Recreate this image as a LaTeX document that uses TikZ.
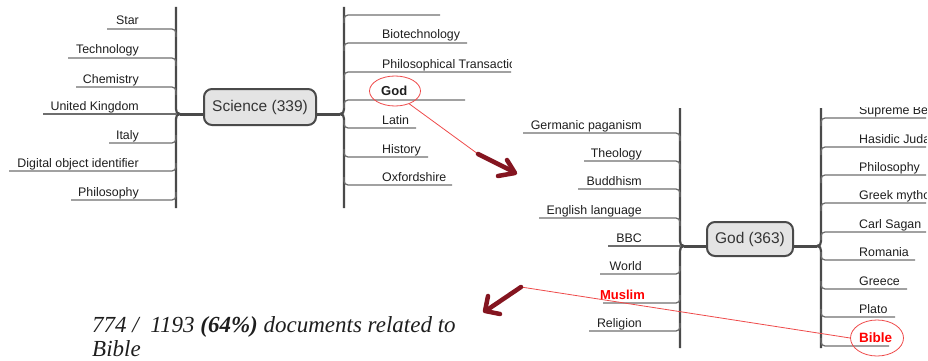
\documentclass[tikz,border=0pt]{standalone}
\usepackage{fontspec}
\setmainfont{Liberation Sans}
\newfontfamily\capfont{Liberation Serif}
\usetikzlibrary{shapes.geometric}
\definecolor{vline}{HTML}{4A4A4A}
\definecolor{bline}{HTML}{6E6E6E}
\definecolor{boxfill}{HTML}{E4E4E4}
\definecolor{darkred}{HTML}{841520}
\definecolor{thinred}{HTML}{EE4A4A}
\definecolor{txt}{HTML}{1E1E1E}
\tikzset{
  vl/.style={draw=vline, line width=2.2pt},
  br/.style={draw=bline, line width=1.3pt, rounded corners=4pt},
  conn/.style={draw=vline, line width=3pt},
  hub/.style={draw=vline, line width=2pt, fill=boxfill, rounded corners=8pt, inner sep=0pt,
     font=\fontsize{15.5}{17}\selectfont, text=txt!90!white},
  lblL/.style={anchor=base east, inner sep=0pt, font=\fontsize{12.4}{14}\selectfont, text=txt},
  lblR/.style={anchor=base west, inner sep=0pt, font=\fontsize{12.4}{14}\selectfont, text=txt},
  hot/.style={font=\bfseries\fontsize{13.5}{15}\selectfont, text=red},
  ring/.style={ellipse, draw=thinred, line width=0.8pt, inner sep=0pt},
  redln/.style={draw=thinred, line width=0.8pt},
  bigarrow/.style={draw=darkred, line width=4.5pt, line cap=round, line join=round}
}
\begin{document}
\begin{tikzpicture}[x=1pt,y=-1pt]
\useasboundingbox (0,0) rectangle (928,361);

% ---------------- Science map ----------------
\node[hub, minimum width=112pt, minimum height=36pt] (sci) at (260,107) {Science (339)};
\coordinate (sciL) at (180,114);
\coordinate (sciR) at (340,114);
\draw[conn] (sciL) -- (sciL -| sci.west);
\draw[conn] (sci.east |- sciR) -- (sciR);
% left trunk
\draw[vl] (176,7) -- (176,109) .. controls (176,112) and (177,114) .. (sciL);
\draw[vl] (sciL) .. controls (177,114) and (176,116) .. (176,119) -- (176,208);
% right trunk
\draw[vl] (344,7) -- (344,109) .. controls (344,112) and (343,114) .. (sciR);
\draw[vl] (sciR) .. controls (343,114) and (344,116) .. (344,119) -- (344,208);

% left branches
\node[lblL] (s1) at (139,25) {Star};
\draw[br] (107,29) -| (176,37);
\node[lblL] (s2) at (139,54) {Technology};
\draw[br] (68,58) -| (176,66);
\node[lblL] (s3) at (139,83) {Chemistry};
\draw[br] (76,87) -| (176,95);
\node[lblL] (s4) at (139,110) {United Kingdom};
\draw[br] (43,114) -- (176,114);
\node[lblL] (s5) at (139,139) {Italy};
\draw[br] (109,143) -| (176,135);
\node[lblL] (s6) at (139,167) {Digital object identifier};
\draw[br] (9,171) -| (176,163);
\node[lblL] (s7) at (139,196) {Philosophy};
\draw[br] (71,200) -| (176,192);

% right branches
\draw[br] (440,15) -| (344,23);
\node[lblR] (r1) at (382,39) {Biotechnology};
\draw[br] (467,43) -| (344,51);
\begin{scope}
  \clip (340,0) rectangle (511,361);
  \node[lblR] (r2) at (382,68) {Philosophical Transactions};
  \draw[br] (520,72) -| (344,80);
\end{scope}
\node[lblR, font=\bfseries\fontsize{13}{15}\selectfont] (r3) at (381,95) {God};
\draw[br] (465,100) -| (344,108);
\node[lblR] (r4) at (382,124) {Latin};
\draw[br] (416,128) -| (344,120);
\node[lblR] (r5) at (382,153) {History};
\draw[br] (428,157) -| (344,149);
\node[lblR] (r6) at (382,181) {Oxfordshire};
\draw[br] (452,185) -| (344,177);

\node[ring, minimum width=51pt, minimum height=30pt] (godE) at (395,91) {};

% ---------------- God map ----------------
\node[hub, minimum width=86pt, minimum height=34pt] (god) at (750,239) {God (363)};
\coordinate (godL) at (684,246);
\coordinate (godR) at (817,246);
\draw[conn] (godL) -- (godL -| god.west);
\draw[conn] (god.east |- godR) -- (godR);
\draw[vl] (680,108) -- (680,241) .. controls (680,244) and (681,246) .. (godL);
\draw[vl] (godL) .. controls (681,246) and (680,248) .. (680,251) -- (680,348);
\draw[vl] (821,108) -- (821,241) .. controls (821,244) and (820,246) .. (godR);
\draw[vl] (godR) .. controls (820,246) and (821,248) .. (821,251) -- (821,348);

% left branches
\node[lblL] (g1) at (642,129) {Germanic paganism};
\draw[br] (523,133) -| (680,141);
\node[lblL] (g2) at (642,157) {Theology};
\draw[br] (584,161) -| (680,169);
\node[lblL] (g3) at (642,185) {Buddhism};
\draw[br] (578,189) -| (680,197);
\node[lblL] (g4) at (642,214) {English language};
\draw[br] (539,218) -| (680,226);
\node[lblL] (g5) at (642,242) {BBC};
\draw[br] (608,246) -- (680,246);
\node[lblL] (g6) at (642,270) {World};
\draw[br] (600,274) -| (680,266);
\node[lblL, hot, font=\bfseries\fontsize{13}{15}\selectfont] (g7) at (645,299) {Muslim};
\draw[br] (603,303) -| (680,295);
\node[lblL] (g8) at (642,327) {Religion};
\draw[br] (589,331) -| (680,323);

% right branches (clipped at the edge, as in the reference)
\begin{scope}
  \clip (815,107) rectangle (926,361);
  \node[lblR] (h1) at (859,114) {Supreme Being};
  \draw[br] (940,118) -| (821,126);
  \node[lblR] (h2) at (859,143) {Hasidic Judaism};
  \draw[br] (940,147) -| (821,155);
  \node[lblR] (h3) at (859,171) {Philosophy};
  \draw[br] (940,175) -| (821,183);
  \node[lblR] (h4) at (859,199) {Greek mythology};
  \draw[br] (940,203) -| (821,211);
  \node[lblR] (h5) at (859,228) {Carl Sagan};
  \draw[br] (940,232) -| (821,240);
\end{scope}
\node[lblR] (h6) at (859,256) {Romania};
\draw[br] (915,260) -| (821,252);
\node[lblR] (h7) at (859,285) {Greece};
\draw[br] (907,289) -| (821,281);
\node[lblR] (h8) at (859,313) {Plato};
\draw[br] (895,317) -| (821,309);
\node[lblR, hot] (h9) at (859,342) {Bible};
\draw[br] (889,346) -| (821,338);

\node[ring, minimum width=53pt, minimum height=36pt] (bibE) at (877,338) {};

% ---------------- annotations ----------------
\coordinate (a1s) at (478,154);
\coordinate (a1e) at (514,172);
\draw[redln] (godE.-42) -- (a1s);
\draw[bigarrow] (a1s) -- (a1e);
\draw[bigarrow] (507,160) -- (515,173) -- (498,176);

\coordinate (a2s) at (521,287);
\coordinate (a2e) at (487,310);
\draw[redln] (bibE.west) -- (a2s);
\draw[bigarrow] (a2s) -- (a2e);
\draw[bigarrow] (488,296) -- (485,311) -- (500,314);

\node[anchor=base west, inner sep=0pt, font=\capfont\itshape\fontsize{23}{23}\selectfont, text=txt]
  (cap1) at (92,332) {774 /\ \ 1193 \textbf{(64\%)} documents related to};
\node[anchor=base west, inner sep=0pt, font=\capfont\itshape\fontsize{23}{23}\selectfont, text=txt]
  (cap2) at (92,356) {Bible};
\end{tikzpicture}
\end{document}
